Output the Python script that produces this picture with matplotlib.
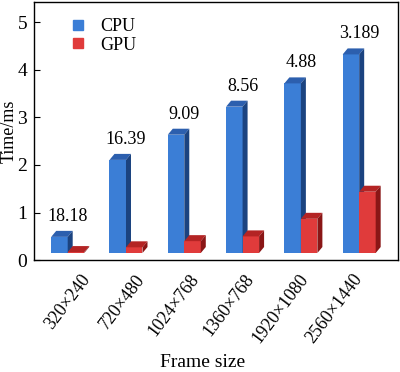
import numpy as np
import matplotlib
matplotlib.use('Agg')
from matplotlib import pyplot as plt
from matplotlib.patches import Polygon
from matplotlib.lines import Line2D

# данные с картинки (время, мс)
frame_sizes = ['320×240', '720×480', '1024×768', '1360×768', '1920×1080', '2560×1440']
cpu_ms = [0.34, 1.96, 2.49, 3.08, 3.57, 4.18]
gpu_ms = [0.02, 0.12, 0.25, 0.35, 0.72, 1.29]
speedup = ['18.18', '16.39', '9.09', '8.56', '4.88', '3.189']

cpu_colors = ('#3b7ed6', '#2c5fae', '#1b4380')   # front, top, side
gpu_colors = ('#e03b3b', '#b42424', '#8a1616')

plt.rcParams['font.family'] = ['Liberation Serif', 'DejaVu Serif']
plt.rcParams['font.size'] = 13

fig = plt.figure(figsize=(4, 3.72), dpi=100)
ax_rect = [0.085, 0.301, 0.91, 0.6936]
ax = fig.add_axes(ax_rect)

x_lo, x_hi = -0.578, 5.666
y_lo, y_hi = 0, 5.43
ax.set_xlim(x_lo, x_hi)
ax.set_ylim(y_lo, y_hi)

# пиксели -> единицы данных, для псевдо-3D
px_x = 400 * ax_rect[2] / (x_hi - x_lo)
px_y = 372 * ax_rect[3] / (y_hi - y_lo)
ddx = 5 / px_x
ddy = 6 / px_y
floor = 7 / px_y
bw = 16.5 / px_x

idx = np.arange(len(frame_sizes))


def faces_3d(bars, colors, z):
    '''Дорисовывает верх и бок к каждому столбику'''
    for b in bars:
        l = b.get_x()
        r = l + b.get_width()
        bot = b.get_y()
        t = bot + b.get_height()
        ax.add_patch(Polygon([(l, t), (r, t), (r + ddx, t + ddy), (l + ddx, t + ddy)],
                             closed=True, fc=colors[1], ec='none', zorder=z))
        ax.add_patch(Polygon([(r, bot), (r + ddx, bot + ddy), (r + ddx, t + ddy), (r, t)],
                             closed=True, fc=colors[2], ec='none', zorder=z))


cpu_bars = ax.bar(idx - bw, cpu_ms, bw, bottom=floor, align='edge',
                  color=cpu_colors[0], zorder=2)
faces_3d(cpu_bars, cpu_colors, 2.1)
gpu_bars = ax.bar(idx, gpu_ms, bw, bottom=floor, align='edge',
                  color=gpu_colors[0], zorder=2.2)
faces_3d(gpu_bars, gpu_colors, 2.3)

for i in range(len(idx)):
    ax.annotate(speedup[i], (idx[i], floor + cpu_ms[i]), xytext=(0, 11.5),
                textcoords='offset points', ha='center', va='baseline', fontsize=13)

ax.set_yticks(range(6))
ax.tick_params(axis='y', direction='in', length=4, width=0.8, pad=5, labelsize=14)

# подписи категорий немного сжаты, как в исходнике
ax.set_xticks(0.21 + 0.935 * idx, frame_sizes)
ax.tick_params(axis='x', length=0, pad=8, labelsize=13)
plt.setp(ax.get_xticklabels(), rotation=53, ha='right', va='top', rotation_mode='anchor')

for s in ax.spines.values():
    s.set_linewidth(1.0)

ax.set_ylabel('Time/ms', fontsize=13, va='center')
ax.yaxis.set_label_coords(-0.068, 0.5)
ax.set_xlabel('Frame size', fontsize=14)
ax.xaxis.set_label_coords(0.464, -0.366)

handles = [Line2D([], [], marker='s', ls='', color=cpu_colors[0], markersize=7),
           Line2D([], [], marker='s', ls='', color=gpu_colors[0], markersize=7)]
ax.legend(handles, ['CPU', 'GPU'], loc='upper left', bbox_to_anchor=(73 / 400, 1 - 18 / 372),
          bbox_transform=fig.transFigure, frameon=False, handlelength=0.6,
          handletextpad=0.9, labelspacing=0.1, borderpad=0, borderaxespad=0, fontsize=13)

fig.savefig('out.png', dpi=100)
